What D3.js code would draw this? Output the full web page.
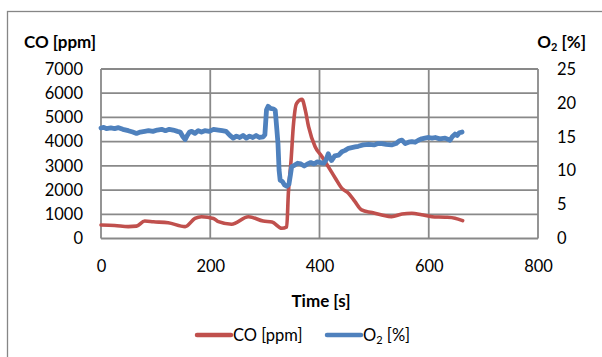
<!DOCTYPE html>
<html>
<head>
<meta charset="utf-8">
<script src="https://cdn.jsdelivr.net/npm/d3@7"></script>
<style>
  body { margin: 0; background: #fff; }
  svg { display: block; font-family: Lato, "Liberation Sans", sans-serif; }
</style>
</head>
<body>
<div id="chart"></div>
<script>
// time axis [s]
const timeTicks = [0, 200, 400, 600, 800];
const coTicks = [0, 1000, 2000, 3000, 4000, 5000, 6000, 7000];
const o2Ticks = [0, 5, 10, 15, 20, 25];

// CO [ppm]
const coTime = [0, 25, 50, 65, 80, 96, 123, 154, 172, 184, 206, 215, 239, 270, 297, 313, 331, 340,
  343, 348, 352, 358, 368, 374, 380, 392, 404, 416, 429, 441, 453, 465, 477, 496, 514, 532, 551,
  569, 587, 606, 630, 648, 662];
const coValue = [560, 540, 490, 510, 720, 690, 650, 490, 830, 900, 830, 694, 586, 900, 723, 680, 421, 480,
  1870, 3240, 4620, 5580, 5750, 5300, 4620, 3790, 3400, 2970, 2490, 2070, 1870, 1520, 1180, 1070, 970, 900, 1010,
  1040, 980, 900, 880, 840, 740];

// O2 [%]
const o2Time = [0, 5, 10, 18, 25, 32, 40, 50, 58, 65, 72, 80, 87, 95, 103, 111, 118, 125, 132, 140,
  145, 150, 154, 158, 162, 166, 172, 178, 184, 190, 198, 206, 215, 222, 229, 236, 242, 248, 254,
  260, 266, 272, 278, 284, 290, 297, 300, 303, 306, 310, 316, 319, 322, 324, 326, 328, 332, 336,
  340, 344, 347, 349, 354, 360, 366, 372, 378, 384, 390, 396, 402, 408, 412, 416, 419, 422, 428,
  435, 441, 447, 453, 459, 465, 471, 480, 490, 500, 507, 514, 522, 532, 540, 546, 551, 557, 563,
  569, 575, 581, 587, 593, 600, 606, 612, 620, 630, 636, 639, 643, 648, 652, 656, 661];
const o2Value = [16.3, 16.4, 16.2, 16.3, 16.2, 16.35, 16.1, 15.9, 15.7, 15.5, 15.7, 15.8, 15.9, 15.8, 16.0, 16.1, 15.9, 16.1, 16.0, 15.8,
  15.7, 15.0, 14.6, 15.2, 15.7, 15.8, 15.5, 15.9, 15.7, 15.9, 15.8, 16.1, 16.0, 15.9, 15.8, 15.2, 14.8, 15.1, 14.9,
  15.2, 14.8, 15.1, 14.9, 15.2, 14.9, 15.0, 15.3, 19.0, 19.5, 19.2, 19.1, 18.9, 16.0, 14.0, 10.1, 8.6, 8.4, 7.9,
  7.7, 8.0, 9.5, 10.6, 10.8, 11.1, 11.0, 10.7, 11.0, 11.2, 11.0, 11.3, 11.2, 11.1, 11.6, 12.5, 11.9, 11.5, 12.2,
  12.3, 12.8, 13.0, 13.3, 13.4, 13.5, 13.6, 13.8, 13.9, 13.8, 14.0, 14.0, 13.9, 13.8, 14.0, 14.4, 14.5, 14.0, 14.2,
  14.3, 14.2, 14.5, 14.7, 14.8, 14.9, 14.8, 14.9, 14.7, 14.8, 14.6, 14.5, 15.0, 15.4, 15.2, 15.6, 15.7];

const W = 602, H = 357;
const plot = { left: 101, right: 538, top: 69, bottom: 238.5 };
const grey = "#898989";
const red = "#C0504D", blue = "#4F81BD";
const fs = 16.5, fsBold = 17;

const svg = d3.select("#chart").append("svg").attr("width", W).attr("height", H);

// chart frame (right and bottom run past the picture)
svg.append("rect")
  .attr("x", 7.5).attr("y", 11.5).attr("width", 620).attr("height", 380)
  .attr("fill", "#fff").attr("stroke", "#868686").attr("stroke-width", 1.3);

const x = d3.scaleLinear().domain([0, 800]).range([plot.left, plot.right]);
const yCO = d3.scaleLinear().domain([0, 7000]).range([plot.bottom, plot.top]);
const yO2 = d3.scaleLinear().domain([0, 25]).range([plot.bottom, plot.top]);

// gridlines
const grid = svg.append("g").attr("stroke", grey).attr("stroke-width", 1.8);
grid.selectAll(".h").data(coTicks).join("line")
  .attr("x1", plot.left).attr("x2", plot.right)
  .attr("y1", d => yCO(d)).attr("y2", d => yCO(d));
grid.selectAll(".v").data(timeTicks).join("line")
  .attr("y1", plot.top).attr("y2", plot.bottom)
  .attr("x1", d => x(d)).attr("x2", d => x(d));

// axes (labels only)
const styleAxis = g => {
  g.select(".domain").remove();
  g.selectAll("text").attr("font-size", fs).attr("fill", "#000").attr("font-family", "Lato");
};
const fmt = d3.format("d");
svg.append("g").attr("transform", `translate(${plot.left},0)`)
  .call(d3.axisLeft(yCO).tickValues(coTicks).tickFormat(fmt).tickSize(0).tickPadding(18))
  .call(styleAxis);
svg.append("g").attr("transform", `translate(${plot.right},0)`)
  .call(d3.axisRight(yO2).tickValues(o2Ticks).tickFormat(fmt).tickSize(0).tickPadding(19))
  .call(styleAxis);
svg.append("g").attr("transform", `translate(0,${plot.bottom})`)
  .call(d3.axisBottom(x).tickValues(timeTicks).tickFormat(fmt).tickSize(0).tickPadding(22))
  .call(styleAxis);

// series
const coLine = d3.line().x((d, i) => x(coTime[i])).y(d => yCO(d)).curve(d3.curveMonotoneX);
const o2Line = d3.line().x((d, i) => x(o2Time[i])).y(d => yO2(d));

svg.append("path").datum(coValue)
  .attr("d", coLine).attr("fill", "none").attr("stroke", red)
  .attr("stroke-width", 3.6).attr("stroke-linecap", "round").attr("stroke-linejoin", "round");
svg.append("path").datum(o2Value)
  .attr("d", o2Line).attr("fill", "none").attr("stroke", blue)
  .attr("stroke-width", 4.8).attr("stroke-linecap", "round").attr("stroke-linejoin", "round");

// axis titles
svg.append("text").attr("x", 24).attr("y", 48)
  .attr("font-size", fsBold).attr("font-weight", "bold").text("CO [ppm]");
const o2Title = svg.append("text").attr("x", 586).attr("y", 48).attr("text-anchor", "end")
  .attr("font-size", fsBold).attr("font-weight", "bold");
o2Title.append("tspan").text("O");
o2Title.append("tspan").attr("font-size", 11).attr("dy", 3).text("2");
o2Title.append("tspan").attr("dy", -3).text(" [%]");

svg.append("text").attr("x", 321).attr("y", 307).attr("text-anchor", "middle")
  .attr("font-size", fsBold).attr("font-weight", "bold").text("Time [s]");

// legend
const legend = svg.append("g").attr("font-size", fs);
const items = [
  { color: red, x0: 197, label: ["CO [ppm]"] },
  { color: blue, x0: 327, label: ["O", "2", " [%]"] }
];
items.forEach(it => {
  legend.append("line")
    .attr("x1", it.x0).attr("x2", it.x0 + 34).attr("y1", 335).attr("y2", 335)
    .attr("stroke", it.color).attr("stroke-width", 4.5).attr("stroke-linecap", "round");
  const t = legend.append("text").attr("x", it.x0 + 36).attr("y", 341);
  if (it.label.length === 1) t.text(it.label[0]);
  else {
    t.append("tspan").text(it.label[0]);
    t.append("tspan").attr("font-size", 11).attr("dy", 3).text(it.label[1]);
    t.append("tspan").attr("dy", -3).text(it.label[2]);
  }
});
</script>
</body>
</html>
